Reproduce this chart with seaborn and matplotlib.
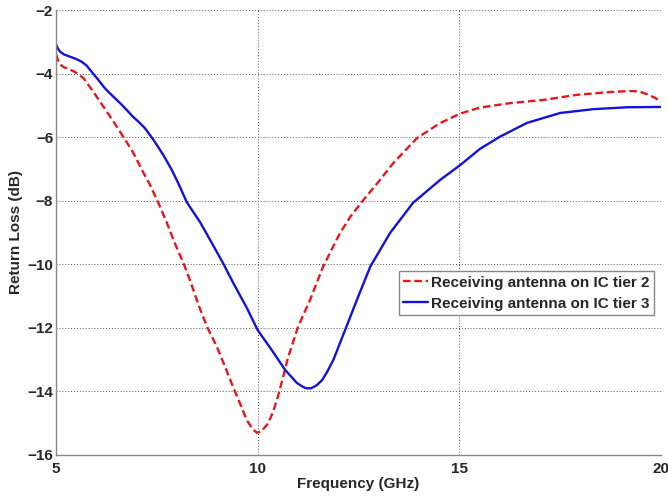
import matplotlib
matplotlib.use("Agg")
import matplotlib.pyplot as plt
import seaborn as sns
import pandas as pd

freq_tier2 = [5.0, 5.08, 5.18, 5.32, 5.47, 5.68, 5.93, 6.18, 6.43, 6.67, 6.92, 7.13, 7.33,
              7.55, 7.75, 7.95, 8.16, 8.35, 8.54, 8.74, 8.99, 9.2, 9.39, 9.57, 9.73, 9.87,
              9.98, 10.1, 10.26, 10.38, 10.5, 10.62, 10.75, 11.0, 11.3, 11.62, 12.04, 12.3,
              12.62, 13.0, 13.36, 13.95, 14.52, 15.02, 15.51, 16.26, 17.08, 17.91, 18.74,
              19.23, 19.45, 19.65, 19.85, 20.0]
rl_tier2 = [-3.4, -3.68, -3.79, -3.86, -3.95, -4.14, -4.58, -5.05, -5.52, -5.99, -6.5, -7.03, -7.5,
            -8.1, -8.7, -9.35, -9.96, -10.6, -11.3, -11.95, -12.6, -13.25, -13.86, -14.4, -14.9, -15.18,
            -15.3, -15.25, -15.0, -14.65, -14.17, -13.6, -12.95, -11.97, -11.12, -10.08, -9.02, -8.5,
            -7.98, -7.4, -6.82, -6.03, -5.56, -5.26, -5.07, -4.93, -4.83, -4.67, -4.58,
            -4.55, -4.56, -4.65, -4.76, -4.89]

freq_tier3 = [5.0, 5.05, 5.1, 5.2, 5.35, 5.5, 5.64, 5.76, 5.88, 6.05, 6.21, 6.4, 6.59, 6.75, 6.91,
              7.05, 7.2, 7.42, 7.66, 7.87, 8.05, 8.24, 8.4, 8.57, 8.85, 9.14, 9.4, 9.73, 10.0,
              10.35, 10.68, 10.97, 11.1, 11.2, 11.33, 11.47, 11.6, 11.72, 11.88, 12.04, 12.22,
              12.46, 12.79, 13.28, 13.85, 14.52, 15.02, 15.51, 16.0, 16.68, 17.5, 18.32,
              19.16, 20.0]
rl_tier3 = [-3.08, -3.22, -3.31, -3.4, -3.47, -3.54, -3.63, -3.75, -3.94, -4.2, -4.46, -4.7, -4.93, -5.14, -5.36,
            -5.52, -5.71, -6.09, -6.56, -7.03, -7.5, -8.04, -8.35, -8.67, -9.3, -9.96, -10.6, -11.37, -12.07,
            -12.7, -13.32, -13.73, -13.84, -13.9, -13.9, -13.8, -13.64, -13.39, -13.0, -12.48, -11.9,
            -11.12, -10.08, -9.02, -8.07, -7.35, -6.88, -6.37, -5.99, -5.55, -5.24, -5.12,
            -5.06, -5.05]

labels = ["Receiving antenna on IC tier 2", "Receiving antenna on IC tier 3"]
x_ticks = [5, 10, 15, 20]
y_ticks = [-16, -14, -12, -10, -8, -6, -4, -2]

sns.set_style("white")
plt.rcParams["font.family"] = ["Liberation Sans", "DejaVu Sans"]
plt.rcParams["font.weight"] = "bold"

df2 = pd.DataFrame({"f": freq_tier2, "rl": rl_tier2})
df3 = pd.DataFrame({"f": freq_tier3, "rl": rl_tier3})

fig = plt.figure(figsize=(6.68, 4.96), dpi=100)
ax = fig.add_axes([56/668, 1-455/496, 605/668, 445/496])

sns.lineplot(data=df2, x="f", y="rl", ax=ax, color="#e8161a", linewidth=1.7,
             linestyle=(0, (3.2, 1.6)), label=labels[0], sort=False)
sns.lineplot(data=df3, x="f", y="rl", ax=ax, color="#1212d8", linewidth=1.7,
             label=labels[1], sort=False)

ax.set_xlim(5, 20)
ax.set_ylim(-16, -2)
ax.set_xticks(x_ticks)
ax.set_yticks(y_ticks)
ax.set_xticklabels([str(t) for t in x_ticks], fontsize=11, fontweight="bold")
ax.set_yticklabels([str(t).replace("-", "\u2212") for t in y_ticks], fontsize=11, fontweight="bold")
ax.grid(True, linestyle=(0, (1, 2)), color="#555555", linewidth=0.7)
ax.tick_params(direction="in", length=4, width=0.7, color="#777777")
ax.tick_params(axis="y", pad=2)
ax.tick_params(axis="x", pad=5)

for s in ["top", "right"]:
    ax.spines[s].set_visible(False)
for s in ["left", "bottom"]:
    ax.spines[s].set_color("#888888")
    ax.spines[s].set_linewidth(1.0)

ax.set_xlabel("Frequency (GHz)", fontsize=11, fontweight="bold", labelpad=1)
ax.set_ylabel("Return Loss (dB)", fontsize=11, fontweight="bold", labelpad=3)

leg = ax.legend(loc="upper right", bbox_to_anchor=(0.988, 0.413), fancybox=False,
                framealpha=1, edgecolor="#888888", fontsize=11, handlelength=1.6,
                handletextpad=0.2, borderpad=0.3, labelspacing=0.45, borderaxespad=0)
for t in leg.get_texts():
    t.set_fontweight("bold")

fig.savefig("out.png", dpi=100)
